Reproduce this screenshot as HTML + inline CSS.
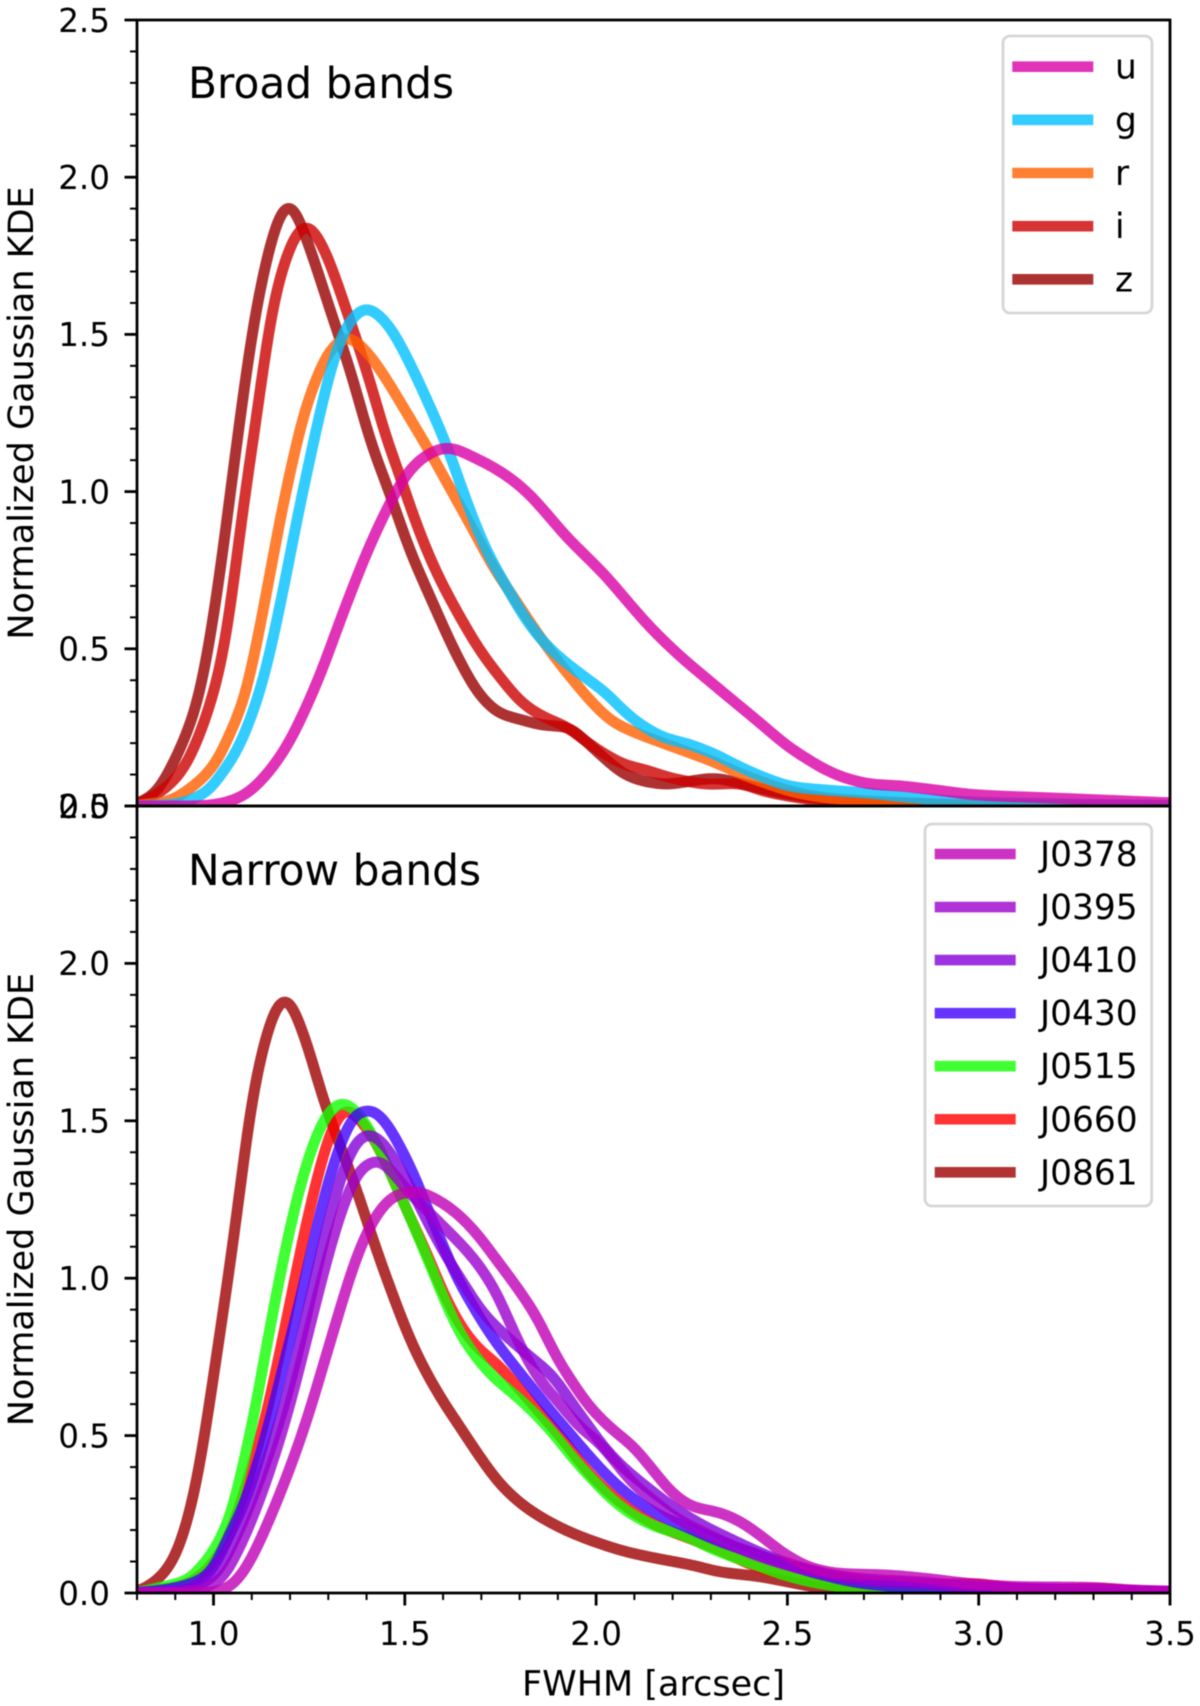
<!DOCTYPE html>
<html lang="en">
<head>
<meta charset="utf-8">
<title>Normalized Gaussian KDE of FWHM</title>
<style>
html,body{margin:0;padding:0;background:#fff;}
svg{display:block;filter:blur(0.5px);}
text{font-family:"DejaVu Sans","Liberation Sans",sans-serif;fill:#000;}
</style>
</head>
<body>
<svg id="chart" xmlns="http://www.w3.org/2000/svg" width="1200" height="1706" viewBox="0 0 1200 1706">
<rect width="1200" height="1706" fill="#fff"/>
<defs>
<clipPath id="clip-top"><rect x="137" y="20" width="1033" height="786"/></clipPath>
<clipPath id="clip-bottom"><rect x="137" y="806" width="1033" height="787"/></clipPath>
</defs>
</svg>
<script>
// ---- chart data ----
const xTickValues = [1.0, 1.5, 2.0, 2.5, 3.0, 3.5];
const xTickLabels = ["1.0", "1.5", "2.0", "2.5", "3.0", "3.5"];
const xMinorValues = [0.8, 0.9, 1.1, 1.2, 1.3, 1.4, 1.6, 1.7, 1.8, 1.9, 2.1, 2.2, 2.3, 2.4, 2.6, 2.7, 2.8, 2.9, 3.1, 3.2, 3.3, 3.4];
const yTickValues = [0.0, 0.5, 1.0, 1.5, 2.0, 2.5];
const yTickLabels = ["0.0", "0.5", "1.0", "1.5", "2.0", "2.5"];
const yMinorValues = [0.1, 0.2, 0.3, 0.4, 0.6, 0.7, 0.8, 0.9, 1.1, 1.2, 1.3, 1.4, 1.6, 1.7, 1.8, 1.9, 2.1, 2.2, 2.3, 2.4];

const uX = [0.8, 0.95, 1.0, 1.05, 1.087, 1.13, 1.191, 1.243, 1.287, 1.322, 1.365, 1.40, 1.435, 1.47, 1.513, 1.557, 1.61, 1.687, 1.757, 1.818, 1.87, 1.923, 1.975, 2.027, 2.079, 2.132, 2.184, 2.236, 2.288, 2.34, 2.393, 2.445, 2.497, 2.55, 2.602, 2.654, 2.724, 2.794, 2.86, 3.0, 3.2, 3.5];
const uY = [0, 0, 0.004, 0.018, 0.04, 0.088, 0.189, 0.316, 0.443, 0.56, 0.698, 0.804, 0.899, 0.984, 1.069, 1.116, 1.14, 1.105, 1.058, 1.0, 0.931, 0.856, 0.793, 0.729, 0.655, 0.581, 0.517, 0.459, 0.406, 0.353, 0.30, 0.247, 0.194, 0.151, 0.114, 0.088, 0.069, 0.064, 0.055, 0.035, 0.025, 0.01];

const gX = [0.8, 0.9, 0.982, 1.034, 1.052, 1.082, 1.114, 1.13, 1.191, 1.226, 1.244, 1.278, 1.313, 1.349, 1.399, 1.453, 1.505, 1.558, 1.61, 1.661, 1.713, 1.766, 1.818, 1.87, 1.923, 1.975, 2.027, 2.079, 2.132, 2.184, 2.236, 2.306, 2.375, 2.445, 2.515, 2.62, 2.724, 2.794, 3.0, 3.5];
const gY = [0, 0.006, 0.045, 0.125, 0.155, 0.231, 0.337, 0.40, 0.74, 0.96, 1.059, 1.25, 1.418, 1.53, 1.585, 1.536, 1.428, 1.291, 1.145, 0.97, 0.814, 0.697, 0.591, 0.512, 0.454, 0.406, 0.358, 0.295, 0.247, 0.215, 0.199, 0.167, 0.125, 0.088, 0.061, 0.049, 0.04, 0.03, 0.012, 0.002];

const rX = [0.8, 0.88, 0.938, 0.999, 1.017, 1.043, 1.08, 1.104, 1.148, 1.18, 1.2, 1.234, 1.27, 1.304, 1.351, 1.401, 1.453, 1.505, 1.558, 1.626, 1.679, 1.731, 1.783, 1.835, 1.888, 1.94, 1.992, 2.044, 2.097, 2.166, 2.236, 2.306, 2.375, 2.445, 2.532, 2.62, 2.75, 3.0, 3.5];
const rY = [0.002, 0.015, 0.055, 0.125, 0.16, 0.231, 0.337, 0.464, 0.74, 0.95, 1.06, 1.24, 1.364, 1.45, 1.492, 1.444, 1.355, 1.25, 1.142, 0.994, 0.878, 0.761, 0.666, 0.57, 0.48, 0.40, 0.326, 0.268, 0.236, 0.204, 0.173, 0.141, 0.104, 0.072, 0.04, 0.024, 0.014, 0.004, 0.001];

const iX = [0.8, 0.878, 0.925, 0.965, 0.995, 1.026, 1.052, 1.078, 1.104, 1.158, 1.197, 1.22, 1.244, 1.29, 1.338, 1.414, 1.453, 1.482, 1.505, 1.557, 1.592, 1.644, 1.696, 1.748, 1.809, 1.862, 1.922, 1.975, 2.027, 2.079, 2.132, 2.184, 2.236, 2.297, 2.367, 2.445, 2.576, 2.706, 3.0, 3.5];
const iY = [0.003, 0.06, 0.125, 0.231, 0.337, 0.486, 0.70, 0.96, 1.164, 1.61, 1.77, 1.83, 1.85, 1.77, 1.61, 1.33, 1.164, 1.07, 0.984, 0.814, 0.72, 0.602, 0.496, 0.411, 0.326, 0.284, 0.252, 0.204, 0.162, 0.13, 0.114, 0.093, 0.079, 0.069, 0.072, 0.045, 0.019, 0.008, 0.002, 0];

const zX = [0.8, 0.851, 0.886, 0.93, 0.96, 1.0, 1.017, 1.055, 1.111, 1.143, 1.165, 1.197, 1.25, 1.296, 1.365, 1.409, 1.461, 1.513, 1.566, 1.644, 1.696, 1.748, 1.809, 1.862, 1.922, 1.975, 2.027, 2.079, 2.132, 2.184, 2.236, 2.306, 2.393, 2.489, 2.62, 2.8, 3.0, 3.5];
const zY = [0.005, 0.045, 0.115, 0.231, 0.337, 0.60, 0.74, 1.10, 1.58, 1.76, 1.86, 1.92, 1.78, 1.61, 1.355, 1.164, 0.994, 0.814, 0.666, 0.46, 0.353, 0.295, 0.273, 0.257, 0.252, 0.204, 0.146, 0.098, 0.077, 0.069, 0.077, 0.088, 0.067, 0.04, 0.019, 0.008, 0.003, 0];

const j0378X = [0.8, 0.95, 0.999, 1.043, 1.087, 1.13, 1.174, 1.217, 1.252, 1.296, 1.33, 1.365, 1.4, 1.435, 1.478, 1.53, 1.592, 1.635, 1.687, 1.74, 1.792, 1.844, 1.896, 1.94, 1.983, 2.044, 2.097, 2.149, 2.201, 2.253, 2.323, 2.376, 2.428, 2.498, 2.568, 2.638, 2.76, 2.864, 2.977, 3.108, 3.282, 3.413, 3.5];
const j0378Y = [0, 0, 0.003, 0.02, 0.083, 0.189, 0.316, 0.454, 0.581, 0.761, 0.899, 1.037, 1.143, 1.217, 1.265, 1.275, 1.244, 1.207, 1.143, 1.058, 0.973, 0.878, 0.751, 0.666, 0.592, 0.518, 0.465, 0.39, 0.316, 0.274, 0.255, 0.227, 0.184, 0.12, 0.078, 0.062, 0.057, 0.046, 0.03, 0.02, 0.018, 0.009, 0.006];

const j0395X = [0.8, 0.93, 1.017, 1.069, 1.117, 1.156, 1.191, 1.243, 1.278, 1.313, 1.348, 1.383, 1.43, 1.47, 1.505, 1.557, 1.609, 1.653, 1.696, 1.74, 1.775, 1.81, 1.853, 1.905, 1.957, 2.01, 2.053, 2.097, 2.149, 2.219, 2.288, 2.375, 2.471, 2.576, 2.7, 2.85, 3.0, 3.5];
const j0395Y = [0, 0.004, 0.041, 0.147, 0.285, 0.422, 0.56, 0.804, 0.973, 1.132, 1.26, 1.345, 1.375, 1.334, 1.281, 1.217, 1.154, 1.1, 1.037, 0.952, 0.857, 0.765, 0.677, 0.602, 0.528, 0.475, 0.412, 0.348, 0.295, 0.231, 0.189, 0.141, 0.099, 0.067, 0.045, 0.035, 0.02, 0.005];

const j0410X = [0.8, 0.9, 0.999, 1.06, 1.104, 1.148, 1.191, 1.235, 1.27, 1.304, 1.339, 1.374, 1.404, 1.435, 1.479, 1.522, 1.566, 1.609, 1.653, 1.705, 1.757, 1.827, 1.888, 1.931, 1.975, 2.027, 2.079, 2.132, 2.2, 2.27, 2.358, 2.445, 2.532, 2.7, 2.85, 3.0, 3.5];
const j0410Y = [0, 0.005, 0.051, 0.18, 0.306, 0.454, 0.62, 0.836, 1.026, 1.196, 1.344, 1.435, 1.46, 1.44, 1.366, 1.27, 1.164, 1.069, 0.984, 0.889, 0.825, 0.751, 0.687, 0.613, 0.539, 0.454, 0.39, 0.337, 0.274, 0.221, 0.168, 0.12, 0.083, 0.04, 0.03, 0.018, 0.004];

const j0430X = [0.8, 0.869, 0.93, 0.99, 1.043, 1.078, 1.113, 1.143, 1.165, 1.2, 1.235, 1.27, 1.304, 1.339, 1.374, 1.413, 1.452, 1.487, 1.522, 1.557, 1.592, 1.635, 1.679, 1.722, 1.774, 1.827, 1.879, 1.931, 1.983, 2.036, 2.097, 2.166, 2.236, 2.314, 2.401, 2.489, 2.6, 2.7, 2.85, 3.0, 3.5];
const j0430Y = [0.001, 0.01, 0.025, 0.062, 0.189, 0.274, 0.401, 0.528, 0.634, 0.804, 0.973, 1.164, 1.323, 1.45, 1.525, 1.535, 1.493, 1.419, 1.334, 1.228, 1.127, 1.005, 0.91, 0.825, 0.74, 0.66, 0.581, 0.507, 0.433, 0.364, 0.30, 0.247, 0.21, 0.168, 0.131, 0.094, 0.055, 0.03, 0.015, 0.007, 0.003];

const j0515X = [0.8, 0.869, 0.93, 0.973, 1.017, 1.052, 1.078, 1.1, 1.148, 1.182, 1.217, 1.252, 1.296, 1.335, 1.374, 1.426, 1.47, 1.513, 1.557, 1.6, 1.64, 1.679, 1.731, 1.783, 1.835, 1.888, 1.94, 1.992, 2.044, 2.097, 2.158, 2.227, 2.314, 2.411, 2.498, 2.585, 2.672, 2.8, 3.0, 3.5];
const j0515Y = [0.001, 0.02, 0.04, 0.09, 0.168, 0.274, 0.412, 0.528, 0.846, 1.058, 1.249, 1.397, 1.52, 1.56, 1.53, 1.429, 1.313, 1.196, 1.069, 0.942, 0.835, 0.761, 0.687, 0.634, 0.576, 0.507, 0.428, 0.359, 0.295, 0.247, 0.21, 0.184, 0.135, 0.092, 0.055, 0.03, 0.016, 0.008, 0.004, 0.003];

const j0660X = [0.8, 0.921, 0.973, 1.017, 1.06, 1.095, 1.126, 1.148, 1.191, 1.226, 1.261, 1.296, 1.322, 1.348, 1.383, 1.426, 1.47, 1.513, 1.557, 1.605, 1.653, 1.687, 1.748, 1.809, 1.862, 1.914, 1.975, 2.036, 2.097, 2.166, 2.245, 2.323, 2.41, 2.5, 2.6, 2.7, 2.85, 2.98, 3.1, 3.2, 3.31, 3.42, 3.5];
const j0660Y = [0, 0.025, 0.062, 0.126, 0.242, 0.38, 0.507, 0.62, 0.867, 1.079, 1.27, 1.429, 1.51, 1.54, 1.503, 1.429, 1.313, 1.196, 1.08, 0.942, 0.836, 0.783, 0.719, 0.634, 0.56, 0.486, 0.39, 0.316, 0.258, 0.21, 0.173, 0.136, 0.088, 0.055, 0.03, 0.022, 0.025, 0.03, 0.015, 0.012, 0.015, 0.006, 0.003];

const j0861X = [0.8, 0.834, 0.869, 0.904, 0.93, 0.952, 0.969, 0.982, 0.999, 1.026, 1.06, 1.1, 1.133, 1.155, 1.187, 1.24, 1.287, 1.322, 1.374, 1.417, 1.47, 1.522, 1.592, 1.644, 1.696, 1.748, 1.809, 1.87, 1.94, 2.01, 2.079, 2.158, 2.253, 2.324, 2.428, 2.498, 2.568, 2.638, 2.76, 3.5];
const j0861Y = [0.003, 0.025, 0.06, 0.126, 0.221, 0.327, 0.44, 0.54, 0.68, 0.90, 1.19, 1.567, 1.75, 1.84, 1.895, 1.76, 1.567, 1.45, 1.281, 1.122, 0.942, 0.783, 0.624, 0.528, 0.433, 0.348, 0.279, 0.231, 0.189, 0.157, 0.131, 0.11, 0.088, 0.067, 0.052, 0.036, 0.02, 0.009, 0.002, 0];

const broadNames = ["u", "g", "r", "i", "z"];
const broadColors = ["#d800a6", "#00bfff", "#ff5f00", "#cc0000", "#990000"];
const broadXs = [uX, gX, rX, iX, zX];
const broadYs = [uY, gY, rY, iY, zY];

const narrowNames = ["J0378", "J0395", "J0410", "J0430", "J0515", "J0660", "J0861"];
const narrowColors = ["#bf00b5", "#9c00ce", "#8300d8", "#4000ff", "#10ff00", "#ff0000", "#9e0000"];
const narrowXs = [j0378X, j0395X, j0410X, j0430X, j0515X, j0660X, j0861X];
const narrowYs = [j0378Y, j0395Y, j0410Y, j0430Y, j0515Y, j0660Y, j0861Y];

// ---- layout + axis functions ----
const NS = "http://www.w3.org/2000/svg";
const svg = document.getElementById("chart");
const plotLeft = 137, plotRight = 1170;
const xMin = 0.8, xMax = 3.5, yMax = 2.5;

function xScale(v) {
  return plotLeft + (v - xMin) / (xMax - xMin) * (plotRight - plotLeft);
}
function yScaleFor(top, bottom) {
  return function (v) { return bottom - v / yMax * (bottom - top); };
}
function make(tag, attrs, parent) {
  const el = document.createElementNS(NS, tag);
  for (const k in attrs) el.setAttribute(k, attrs[k]);
  (parent || svg).appendChild(el);
  return el;
}
// monotone cubic interpolant of the read points
function interpolant(xs, ys) {
  const n = xs.length, d = [], m = new Array(n).fill(0);
  for (let i = 0; i < n - 1; i++) d.push((ys[i + 1] - ys[i]) / (xs[i + 1] - xs[i]));
  m[0] = d[0]; m[n - 1] = d[n - 2];
  for (let i = 1; i < n - 1; i++) {
    if (d[i - 1] * d[i] <= 0) { m[i] = 0; continue; }
    const h0 = xs[i] - xs[i - 1], h1 = xs[i + 1] - xs[i];
    const w0 = 2 * h1 + h0, w1 = h1 + 2 * h0;
    m[i] = (w0 + w1) / (w0 / d[i - 1] + w1 / d[i]);
  }
  return function (x) {
    if (x <= xs[0]) return ys[0];
    if (x >= xs[n - 1]) return ys[n - 1];
    let i = 0;
    while (x > xs[i + 1]) i++;
    const h = xs[i + 1] - xs[i], t = (x - xs[i]) / h;
    const t2 = t * t, t3 = t2 * t;
    return (2 * t3 - 3 * t2 + 1) * ys[i] + (t3 - 2 * t2 + t) * h * m[i] +
      (-2 * t3 + 3 * t2) * ys[i + 1] + (t3 - t2) * h * m[i + 1];
  };
}
// the curves are kernel density estimates, so the read points get a small Gaussian smoothing
const smoothSigma = 0.017, sampleStep = 0.004;
function curvePath(xs, ys, sy) {
  const f = interpolant(xs, ys);
  const radius = Math.ceil(3 * smoothSigma / sampleStep);
  const kernel = [];
  let total = 0;
  for (let k = -radius; k <= radius; k++) {
    const w = Math.exp(-0.5 * Math.pow(k * sampleStep / smoothSigma, 2));
    kernel.push(w); total += w;
  }
  const count = Math.round((xMax - xMin) / sampleStep);
  let s = "";
  for (let i = 0; i <= count; i++) {
    const x = xMin + i * sampleStep;
    let v = 0;
    for (let k = -radius; k <= radius; k++) v += kernel[k + radius] * f(x + k * sampleStep);
    v /= total;
    s += (i ? "L" : "M") + xScale(x).toFixed(2) + " " + sy(v).toFixed(2);
  }
  return s;
}

function drawCurves(top, bottom, clipId, names, colors, xsList, ysList) {
  const sy = yScaleFor(top, bottom);
  const group = make("g", { "clip-path": "url(#" + clipId + ")" });
  for (let i = names.length - 1; i >= 0; i--) {
    const path = make("path", {
      d: curvePath(xsList[i], ysList[i], sy),
      fill: "none",
      stroke: colors[i],
      "stroke-opacity": 0.8,
      "stroke-width": 11,
      "stroke-linejoin": "round"
    }, group);
    
    
  }
}

function drawYAxis(top, bottom, panelName) {
  const sy = yScaleFor(top, bottom);
  yMinorValues.forEach(function (v) {
    const t = make("line", { x1: plotLeft - 7, x2: plotLeft, y1: sy(v), y2: sy(v), stroke: "#000", "stroke-width": 2 });
    
    
  });
  yTickValues.forEach(function (v, i) {
    const t = make("line", { x1: plotLeft - 12.5, x2: plotLeft, y1: sy(v), y2: sy(v), stroke: "#000", "stroke-width": 2.8 });
    
    
    const l = make("text", { x: 110, y: sy(v) + 11.8, "text-anchor": "end", "font-size": 32.6 });
    l.textContent = yTickLabels[i];
    
    
  });
  const mid = (top + bottom) / 2;
  const title = make("text", {
    x: 33, y: mid, "text-anchor": "middle", "font-size": 35,
    transform: "rotate(-90 33 " + mid + ")"
  });
  title.textContent = "Normalized Gaussian KDE";
  
  
}

function drawFrame(top, bottom, panelName) {
  const r = make("rect", {
    x: plotLeft, y: top, width: plotRight - plotLeft, height: bottom - top,
    fill: "none", stroke: "#000", "stroke-width": 2.8
  });
  
  
}

function drawLegend(box, handleLeft, handleRight, textX, firstY, stepY, names, colors, panelName) {
  const g = make("g", {});
  
  
  make("rect", {
    x: box[0], y: box[1], width: box[2], height: box[3], rx: 7, ry: 7,
    fill: "#fff", stroke: "#d6d6d6", "stroke-width": 2.8
  }, g);
  names.forEach(function (name, i) {
    const y = firstY + i * stepY;
    const h = make("line", { x1: handleLeft, x2: handleRight, y1: y, y2: y, stroke: colors[i], "stroke-opacity": 0.8, "stroke-width": 10.6 }, g);
    
    
    const t = make("text", { x: textX, y: y + 12, "font-size": 34.4 }, g);
    t.textContent = name;
    
    
  });
}

// ---- top panel ----
drawCurves(20, 806, "clip-top", broadNames, broadColors, broadXs, broadYs);
drawYAxis(20, 806, "broad-panel");
drawFrame(20, 806, "broad-panel");
const broadTitle = make("text", { x: 188, y: 98, "font-size": 42.3 });
broadTitle.textContent = "Broad bands";


drawLegend([1003, 36, 149, 277], 1012.3, 1093.3, 1115, 66.7, 53.15, broadNames, broadColors, "broad-panel");

// ---- bottom panel ----
drawCurves(806, 1593, "clip-bottom", narrowNames, narrowColors, narrowXs, narrowYs);
drawYAxis(806, 1593, "narrow-panel");
drawFrame(806, 1593, "narrow-panel");
const narrowTitle = make("text", { x: 188, y: 885, "font-size": 42.3 });
narrowTitle.textContent = "Narrow bands";


drawLegend([925, 824, 226.7, 382], 934.7, 1015.7, 1040, 854, 53.05, narrowNames, narrowColors, "narrow-panel");

// ---- shared x axis ----
xMinorValues.forEach(function (v) {
  const t = make("line", { x1: xScale(v), x2: xScale(v), y1: 1593, y2: 1600, stroke: "#000", "stroke-width": 2 });
  
  
});
xTickValues.forEach(function (v, i) {
  const t = make("line", { x1: xScale(v), x2: xScale(v), y1: 1593, y2: 1605.5, stroke: "#000", "stroke-width": 2.8 });
  
  
  const l = make("text", { x: xScale(v), y: 1645, "text-anchor": "middle", "font-size": 32.6 });
  l.textContent = xTickLabels[i];
  
  
});
const xTitle = make("text", { x: 653.5, y: 1695.5, "text-anchor": "middle", "font-size": 35 });
xTitle.textContent = "FWHM [arcsec]";


</script>
</body>
</html>
